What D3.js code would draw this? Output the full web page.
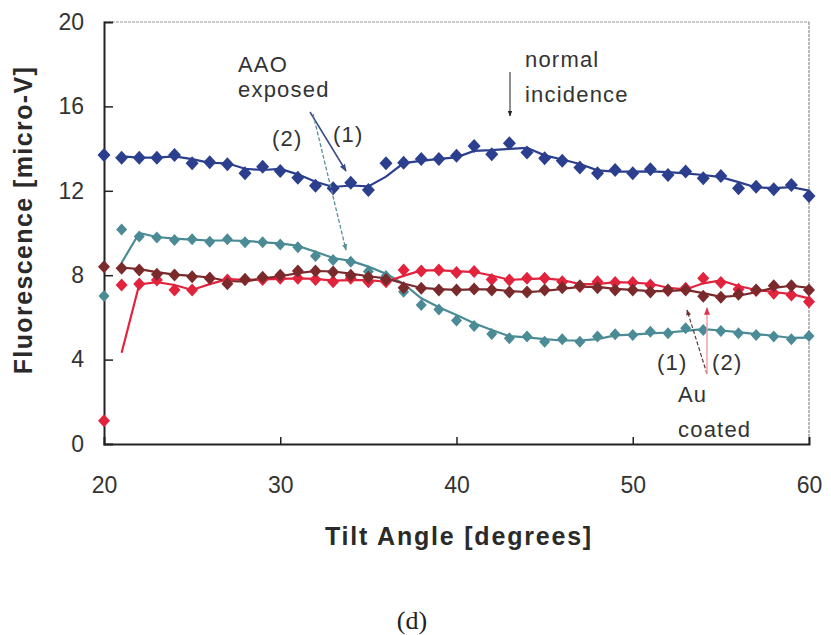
<!DOCTYPE html>
<html>
<head>
<meta charset="utf-8">
<script src="https://cdn.jsdelivr.net/npm/d3@7/dist/d3.min.js"></script>
<style>
  html, body { margin: 0; padding: 0; background: #fff; }
  svg { display: block; }
</style>
</head>
<body>
<svg id="chart" width="831" height="635"></svg>
<script>
// ---------------- data ----------------
const angles = d3.range(20, 61); // tilt angle, degrees (one reading per degree)

const aaoExposed1 = [13.70, 13.57, 13.57, 13.57, 13.70, 13.30, 13.35, 13.26, 12.83, 13.14,
  12.94, 12.62, 12.24, 12.12, 12.38, 12.04, 13.30, 13.33, 13.51, 13.51,
  13.66, 14.12, 13.73, 14.25, 13.82, 13.54, 13.43, 13.11, 12.83, 12.99,
  12.83, 13.02, 12.75, 12.91, 12.59, 12.70, 12.12, 12.19, 12.07, 12.27, 11.75];

const aaoExposed2 = [7.01, 10.17, 9.83, 9.79, 9.67, 9.70, 9.59, 9.70, 9.56, 9.56,
  9.46, 9.32, 8.91, 8.72, 8.64, 8.17, 7.96, 7.22, 6.59, 6.38,
  5.85, 5.59, 5.21, 5.01, 5.09, 4.85, 4.96, 4.85, 5.09, 5.20,
  5.17, 5.32, 5.25, 5.48, 5.40, 5.36, 5.25, 5.17, 5.09, 4.96, 5.12];

const auCoated1 = [8.40, 8.33, 8.25, 8.04, 8.01, 7.93, 7.85, 7.60, 7.80, 7.90,
  8.00, 8.20, 8.20, 8.15, 8.00, 7.90, 7.80, 7.41, 7.38, 7.30,
  7.30, 7.35, 7.30, 7.20, 7.20, 7.30, 7.40, 7.50, 7.40, 7.30,
  7.30, 7.20, 7.30, 7.30, 7.00, 6.95, 7.10, 7.30, 7.50, 7.50, 7.30];

const auCoated2 = [1.10, 7.54, 7.58, 7.77, 7.30, 7.30, 7.85, 7.77, 7.80, 7.80,
  7.85, 7.85, 7.80, 7.69, 7.85, 7.69, 7.69, 8.25, 8.20, 8.25,
  8.13, 8.17, 7.80, 7.77, 7.85, 7.85, 7.69, 7.46, 7.69, 7.65,
  7.65, 7.54, 7.27, 7.38, 7.85, 7.65, 7.33, 7.27, 7.14, 7.06, 6.74];

const yTicks = [0, 4, 8, 12, 16, 20];
const xTicks = [20, 30, 40, 50, 60];

const seriesList = [
  { name: "AAO exposed (1)", values: aaoExposed1, color: "#2b3f8e", w: 6.5, h: 7 },
  { name: "AAO exposed (2)", values: aaoExposed2, color: "#4b8b95", w: 5.5, h: 6 },
  { name: "Au coated (2)",   values: auCoated2,   color: "#e2233d", w: 6, h: 6.5 },
  { name: "Au coated (1)",   values: auCoated1,   color: "#7b2a2c", w: 6, h: 6.5 }
];

// ---------------- layout ----------------
const svg = d3.select("#chart");
const x = d3.scaleLinear().domain([20, 60]).range([104, 809]);
const y = d3.scaleLinear().domain([0, 20]).range([444, 22]);
const FONT = "'Liberation Sans', Arial, sans-serif";

// frame (top/right faint)
svg.append("line").attr("x1", x(20)).attr("x2", x(60)).attr("y1", y(20)).attr("y2", y(20))
  .attr("stroke", "#9a9a9a").attr("stroke-width", 1.2).attr("stroke-dasharray", "3,1");
svg.append("line").attr("x1", x(60)).attr("x2", x(60)).attr("y1", y(20)).attr("y2", y(0))
  .attr("stroke", "#8a8a8a").attr("stroke-width", 1.2).attr("stroke-dasharray", "3,1");

// axes
const yAxis = d3.axisLeft(y).tickValues(yTicks).tickSize(-9).tickPadding(20).tickFormat(d3.format("d"));
const xAxis = d3.axisBottom(x).tickValues(xTicks).tickSize(-7).tickPadding(33).tickFormat(d3.format("d"));

const gy = svg.append("g").attr("transform", `translate(${x(20)},0)`).call(yAxis);
const gx = svg.append("g").attr("transform", `translate(0,${y(0)})`).call(xAxis);
[gx, gy].forEach(g => {
  g.select(".domain").attr("stroke", "#222").attr("stroke-width", 2);
  g.selectAll(".tick line").attr("stroke", "#222").attr("stroke-width", 1.5);
  g.selectAll(".tick text").attr("font-family", FONT).attr("font-size", 23).attr("fill", "#333");
});
gy.selectAll(".tick").filter(d => d === 0 || d === 20).select("line").remove();
gx.selectAll(".tick").filter(d => d === 20 || d === 60).select("line").remove();

// axis titles
svg.append("text").attr("x", 459).attr("y", 545).attr("text-anchor", "middle")
  .attr("font-family", FONT).attr("font-weight", "bold").attr("font-size", 25)
  .attr("letter-spacing", 1.8).attr("fill", "#2a2a2a").text("Tilt Angle [degrees]");
svg.append("text").attr("transform", "translate(32,220) rotate(-90)").attr("text-anchor", "middle")
  .attr("font-family", FONT).attr("font-weight", "bold").attr("font-size", 25)
  .attr("letter-spacing", 1.4).attr("fill", "#2a2a2a").text("Fluorescence [micro-V]");
svg.append("text").attr("x", 412).attr("y", 629).attr("text-anchor", "middle")
  .attr("font-family", "'Liberation Serif', 'Times New Roman', serif").attr("font-size", 26)
  .attr("fill", "#222").text("(d)");

// ---------------- series ----------------
// trendlines: 2-period moving average of the readings (as in the original chart)
const line = d3.line().x(d => x(d[0])).y(d => y(d[1]));

seriesList.forEach(s => {
  const pts = angles.map((a, i) => [a, s.values[i]]);
  const ma = d3.pairs(pts).map(([p, q]) => [q[0], (p[1] + q[1]) / 2]);
  svg.append("path").datum(ma).attr("d", line)
    .attr("fill", "none").attr("stroke", s.color).attr("stroke-width", 2.2);
});
seriesList.forEach(s => {
  const pts = angles.map((a, i) => [a, s.values[i]]);
  const dpath = `M0,${-s.h}L${s.w},0L0,${s.h}L${-s.w},0Z`;
  svg.append("g").selectAll("path").data(pts).join("path")
    .attr("transform", d => `translate(${x(d[0])},${y(d[1])})`)
    .attr("d", dpath)
    .attr("fill", s.color);
});

// ---------------- annotations ----------------
const defs = svg.append("defs");
function marker(id, color) {
  defs.append("marker").attr("id", id).attr("viewBox", "0 0 10 10").attr("refX", 9).attr("refY", 5)
    .attr("markerWidth", 5).attr("markerHeight", 5).attr("orient", "auto-start-reverse")
    .append("path").attr("d", "M0,1 L10,5 L0,9 Z").attr("fill", color);
}
marker("arBlue", "#3a4a88");
marker("arTeal", "#5a8f99");
marker("arDark", "#222");
marker("arMaroon", "#6b2a2a");
marker("arRed", "#e2334a");

function txt(t, xx, yy) {
  svg.append("text").attr("x", xx).attr("y", yy).attr("font-family", FONT).attr("font-size", 22)
    .attr("letter-spacing", 1.2).attr("fill", "#333").text(t);
}
txt("AAO", 238, 72);
txt("exposed", 238, 97);
txt("(2)", 272, 146);
txt("(1)", 333, 142);
txt("normal", 525, 67);
txt("incidence", 525, 102);
txt("(1)", 657, 370);
txt("(2)", 712, 370);
txt("Au", 678, 402);
txt("coated", 678, 437);

svg.append("line").attr("x1", 310).attr("y1", 112).attr("x2", 346).attr("y2", 171)
  .attr("stroke", "#3a4a88").attr("stroke-width", 1.5).attr("marker-end", "url(#arBlue)");
svg.append("line").attr("x1", 313).attr("y1", 114).attr("x2", 346).attr("y2", 250)
  .attr("stroke", "#5a8f99").attr("stroke-width", 1.3).attr("stroke-dasharray", "4,2")
  .attr("marker-end", "url(#arTeal)");
svg.append("line").attr("x1", 510).attr("y1", 72).attr("x2", 510).attr("y2", 116)
  .attr("stroke", "#333").attr("stroke-width", 1.1).attr("marker-end", "url(#arDark)");
svg.append("line").attr("x1", 707).attr("y1", 374).attr("x2", 687).attr("y2", 310)
  .attr("stroke", "#5a3a3a").attr("stroke-width", 1.2).attr("stroke-dasharray", "4,2")
  .attr("marker-end", "url(#arMaroon)");
svg.append("line").attr("x1", 707).attr("y1", 374).attr("x2", 707).attr("y2", 308)
  .attr("stroke", "#f0a0a8").attr("stroke-width", 1.5).attr("marker-end", "url(#arRed)");
</script>
</body>
</html>
